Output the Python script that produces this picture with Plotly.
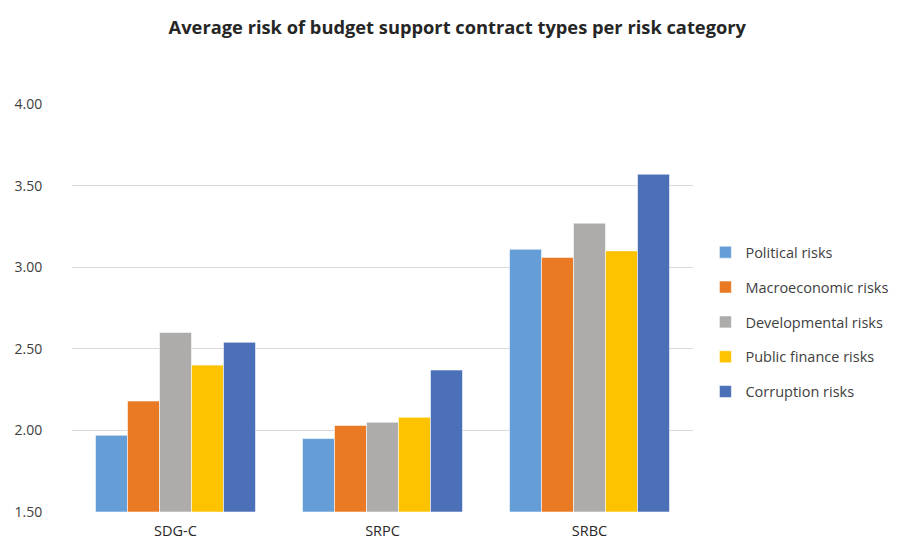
import plotly.graph_objects as go

# Contract types and average risk per category
contract_types = ["SDG-C", "SRPC", "SRBC"]
political = [1.97, 1.95, 3.11]
macroeconomic = [2.18, 2.03, 3.06]
developmental = [2.60, 2.05, 3.27]
public_finance = [2.40, 2.08, 3.10]
corruption = [2.54, 2.37, 3.57]

series_names = [
    "Political risks",
    "Macroeconomic risks",
    "Developmental risks",
    "Public finance risks",
    "Corruption risks",
]
series_values = [political, macroeconomic, developmental, public_finance, corruption]
series_colors = ["#659ED6", "#E97922", "#AEABAB", "#FDC300", "#4B70B8"]

y_ticks = [1.5, 2.0, 2.5, 3.0, 3.5, 4.0]
y_tick_labels = ["1.50", "2.00", "2.50", "3.00", "3.50", "4.00"]
baseline = 1.5

font_family = "Open Sans, Noto Sans, sans-serif"

fig = go.Figure()
for name, vals, color in zip(series_names, series_values, series_colors):
    fig.add_trace(
        go.Bar(
            x=contract_types,
            y=[v - baseline for v in vals],
            base=baseline,
            customdata=vals,
            name=name,
            legendgroup=name,
            hovertemplate="%{x}: %{customdata:.2f}<extra>%{fullData.name}</extra>",
            marker=dict(color=color, line=dict(color="rgba(255,255,255,0.7)", width=0.8)),
        )
    )

fig.update_layout(
    width=902,
    height=542,
    margin=dict(l=72, r=209, t=104, b=30, autoexpand=False),
    paper_bgcolor="white",
    plot_bgcolor="white",
    barmode="group",
    bargap=0.227,
    bargroupgap=0,
    font=dict(family=font_family, size=13, color="#404040"),
    title=dict(
        text="<b>Average risk of budget support contract types per risk category</b>",
        x=0.507,
        xanchor="center",
        y=0.95,
        yanchor="middle",
        font=dict(family=font_family, size=18.3, color="#262626"),
    ),
    xaxis=dict(
        automargin=False,
        showgrid=False,
        showline=False,
        ticks="outside",
        ticklen=6,
        tickcolor="rgba(0,0,0,0)",
        tickfont=dict(size=14.5, color="#262626"),
    ),
    yaxis=dict(
        automargin=False,
        range=[1.5, 4.0],
        tickvals=y_ticks,
        ticktext=y_tick_labels,
        showgrid=True,
        gridcolor="#D9D9D9",
        gridwidth=1,
        zeroline=False,
        showline=False,
        ticks="outside",
        ticklen=26,
        tickcolor="rgba(0,0,0,0)",
        tickfont=dict(size=14, color="#404040"),
    ),
    legend=dict(
        x=1.02,
        xanchor="left",
        y=0.465,
        yanchor="middle",
        tracegroupgap=13,
        font=dict(size=14.5, color="#404040"),
        bgcolor="rgba(0,0,0,0)",
        itemwidth=30,
    ),
)

fig.write_html("out.html")
